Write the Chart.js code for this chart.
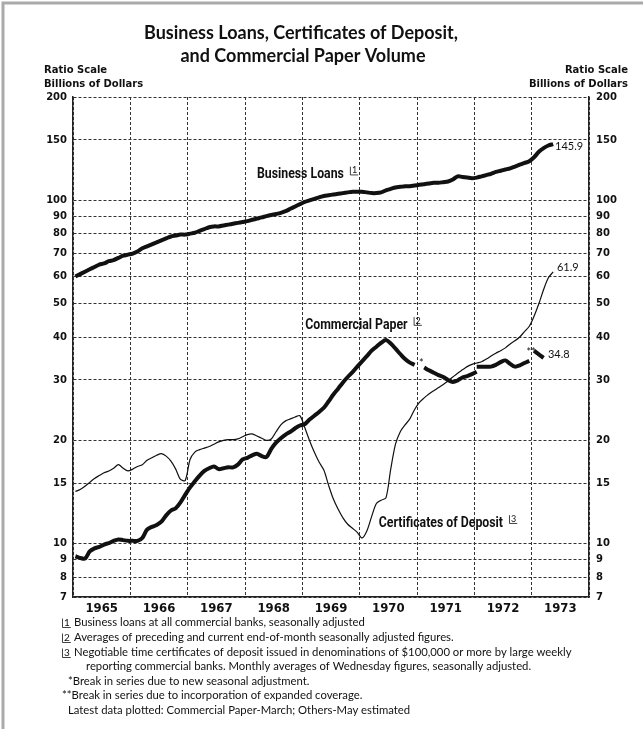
<!DOCTYPE html>
<html>
<head>
<meta charset="utf-8">
<title>Business Loans, Certificates of Deposit, and Commercial Paper Volume</title>
<script src="https://cdn.jsdelivr.net/npm/chart.js@4.4.0/dist/chart.umd.min.js"></script>
<style>
  html, body { margin: 0; padding: 0; background: #fff; }
  #wrap { width: 643px; height: 729px; }
</style>
</head>
<body>
<div id="wrap"><canvas id="chart" width="643" height="729"></canvas></div>
<script>
// month index counts from January 1965 (0) ; points sit mid-month
const yearLabels = ["1965", "1966", "1967", "1968", "1969", "1970", "1971", "1972", "1973"];
const yTicks = [7, 8, 9, 10, 15, 20, 30, 40, 50, 60, 70, 80, 90, 100, 150, 200];
const titleLines = ["Business Loans, Certificates of Deposit,", "and Commercial Paper Volume"];

// business loans, Jan 1965 - May 1973 (billions)
const businessLoans = [
  60, 61, 62, 63, 64, 65, 65.5, 66.5, 67, 68, 69, 69.5,
  70, 71, 72.5, 73.5, 74.5, 75.5, 76.5, 77.5, 78.5, 79, 79.5, 79.5,
  80, 80.5, 81.5, 82.5, 83.5, 84, 84, 84.5, 85, 85.5, 86, 86.5,
  87, 87.8, 88.5, 89.2, 90, 90.7, 91.3, 92, 93, 94.5, 96, 97.5,
  99, 100, 101, 102, 103, 103.5, 104, 104.5, 105, 105.5, 106, 106,
  106, 105.5, 105, 105, 105.5, 107, 108, 109, 109.5, 110, 110, 110.5,
  111, 111.5, 112, 112.5, 112.5, 113, 113.5, 115, 117.5, 117, 116.5, 116,
  116.5, 117.5, 118.5, 119.5, 121, 122, 123, 124, 125.5, 127, 128.5, 130,
  133.5, 138.5, 142, 144.5, 145.9
];

// commercial paper, split at the series breaks
const paperStarts = [0, 73, 84, 96];
const paperA = [ // Jan 1965 - Dec 1970
  9.2, 9.1, 9.05, 9.5, 9.7, 9.8, 9.95, 10.05, 10.2, 10.3, 10.25, 10.2,
  10.2, 10.2, 10.4, 11.0, 11.2, 11.35, 11.6, 12.1, 12.5, 12.7, 13.2, 13.9,
  14.6, 15.2, 15.8, 16.3, 16.6, 16.8, 16.5, 16.6, 16.7, 16.7, 17.0, 17.6,
  17.8, 18.1, 18.3, 18.0, 17.9, 18.9, 19.7, 20.3, 20.8, 21.2, 21.7, 22.1,
  22.3, 23.0, 23.6, 24.2, 24.9, 26.0, 27.2, 28.3, 29.5, 30.6, 31.6, 32.8,
  34.0, 35.2, 36.5, 37.5, 38.5, 39.2, 38.3, 37.0, 35.7, 34.5, 33.7, 33.2
];
const paperB = [32.6, 32.0, 31.5, 31.0, 30.6, 30.0, 29.6, 29.9, 30.5, 30.8, 31.2, 31.7]; // Feb 1971 - Jan 1972
const paperC = [32.8, 32.8, 32.8, 32.8, 33.2, 33.8, 34.2, 33.4, 32.8, 33.1, 33.6, 34.1]; // 1972 new basis
const paperD = [36.5, 35.6, 34.8]; // Jan - Mar 1973

// certificates of deposit, Jan 1965 - May 1973
const deposits = [
  14.2, 14.4, 14.7, 15.1, 15.5, 15.8, 16.1, 16.3, 16.6, 17.0, 16.6, 16.3,
  16.5, 16.8, 17.0, 17.5, 17.8, 18.1, 18.3, 18.0, 17.4, 16.5, 15.4, 15.3,
  17.6, 18.5, 18.8, 19.0, 19.2, 19.5, 19.8, 20.0, 20.1, 20.1, 20.2, 20.5,
  20.8, 20.9, 20.6, 20.3, 20.0, 20.2, 21.2, 22.2, 22.8, 23.1, 23.4, 23.6,
  21.8, 20.0, 18.5, 17.3, 16.4, 14.8, 13.5, 12.6, 11.9, 11.4, 11.1, 10.8,
  10.4, 10.9, 12.0, 13.1, 13.4, 13.6, 16.5, 19.5, 21.2, 22.2, 23.1, 24.6,
  25.8, 26.6, 27.3, 27.9, 28.5, 29.1, 29.8, 30.6, 31.4, 32.1, 32.8, 33.3,
  33.6, 33.9, 34.5, 35.2, 35.9, 36.5, 37.2, 38.2, 39.0, 40.0, 41.5, 43.0,
  46.0, 50.0, 55.0, 59.5, 61.9
];

// text placed on the plot, anchored in data units
const seriesNotes = [
  { text: "Business Loans", mark: "1", x: 38.5, y: 119 },
  { text: "Commercial Paper", mark: "2", x: 48.6, y: 43.4 },
  { text: "Certificates of Deposit", mark: "3", x: 64.0, y: 11.5 }
];
const endNotes = [
  { text: "145.9", x: 100.9, y: 144 },
  { text: "61.9", x: 101.3, y: 63.6 },
  { text: "34.8", x: 99.4, y: 35.5 },
  { text: "*", x: 72.4, y: 33.6 },
  { text: "**", x: 94.9, y: 36.0 }
];

const footnotes = [
  { mark: "1", text: "Business loans at all commercial banks, seasonally adjusted", x: 62, y: 626 },
  { mark: "2", text: "Averages of preceding and current end-of-month seasonally adjusted figures.", x: 62, y: 641 },
  { mark: "3", text: "Negotiable time certificates of deposit issued in denominations of $100,000 or more by large weekly", x: 62, y: 656 },
  { mark: "", text: "reporting commercial banks. Monthly averages of Wednesday figures, seasonally adjusted.", x: 86, y: 670 },
  { mark: "", text: "*Break in series due to new seasonal adjustment.", x: 68, y: 685 },
  { mark: "", text: "**Break in series due to incorporation of expanded coverage.", x: 62, y: 699 },
  { mark: "", text: "Latest data plotted: Commercial Paper-March; Others-May estimated", x: 68, y: 714 }
];

const condensed = "'DejaVu Sans Condensed', 'Liberation Sans Narrow', 'Roboto Condensed', Roboto";

function toPoints(values, start) {
  return values.map((v, i) => ({ x: start + i + 0.5, y: v }));
}

// small numeral with a corner bracket, like the note markers
function drawMark(ctx, mark, x, y, size) {
  ctx.save();
  ctx.font = size + "px Lato";
  ctx.textAlign = "left";
  ctx.textBaseline = "alphabetic";
  ctx.fillText(mark, x + 2, y);
  const w = ctx.measureText(mark).width;
  ctx.lineWidth = 0.8;
  ctx.beginPath();
  ctx.moveTo(x + 0.5, y - size * 0.75);
  ctx.lineTo(x + 0.5, y + 1.5);
  ctx.lineTo(x + w + 3, y + 1.5);
  ctx.stroke();
  ctx.restore();
}

const annotate = {
  id: "annotate",
  afterDraw(chart) {
    const ctx = chart.ctx;
    const xs = chart.scales.x;
    const ys = chart.scales.y;
    ctx.save();
    ctx.fillStyle = "#111";
    ctx.strokeStyle = "#111";

    // scanned page edge
    ctx.save();
    ctx.strokeStyle = "#aaa";
    ctx.lineWidth = 3;
    ctx.beginPath();
    ctx.moveTo(3, 729);
    ctx.lineTo(3, 3);
    ctx.lineTo(643, 3);
    ctx.stroke();
    ctx.restore();

    // title
    ctx.font = "bold 18px Lato";
    ctx.textAlign = "center";
    ctx.textBaseline = "alphabetic";
    ctx.fillText(titleLines[0], 301, 39);
    ctx.fillText(titleLines[1], 303, 62);

    // axis captions
    ctx.font = "bold 10px 'DejaVu Sans'";
    ctx.textAlign = "left";
    ctx.fillText("Ratio Scale", 44, 73);
    ctx.fillText("Billions of Dollars", 44, 87);
    ctx.textAlign = "right";
    ctx.fillText("Ratio Scale", 628, 73);
    ctx.fillText("Billions of Dollars", 628, 87);

    // series names, squeezed like the original lettering
    ctx.font = "bold 15px Roboto";
    ctx.textAlign = "left";
    ctx.textBaseline = "middle";
    seriesNotes.forEach(n => {
      const px = xs.getPixelForValue(n.x);
      const py = ys.getPixelForValue(n.y);
      const w = ctx.measureText(n.text).width * 0.82;
      ctx.save();
      ctx.translate(px, py);
      ctx.scale(0.82, 1);
      ctx.fillText(n.text, 0, 0);
      ctx.restore();
      drawMark(ctx, n.mark, px + w + 6, py - 1, 9);
    });

    // latest values and break marks
    ctx.font = "11px Lato";
    endNotes.forEach(n => {
      ctx.fillText(n.text, xs.getPixelForValue(n.x), ys.getPixelForValue(n.y));
    });

    // footnotes
    ctx.font = "11.3px Lato";
    ctx.textBaseline = "alphabetic";
    footnotes.forEach(f => {
      let x = f.x;
      if (f.mark) {
        drawMark(ctx, f.mark, x, f.y, 10);
        x += 12;
      }
      ctx.fillText(f.text, x, f.y);
    });
    ctx.restore();
  }
};

const lineStyle = {
  borderColor: "#111",
  pointRadius: 0,
  tension: 0.3,
  fill: false
};

new Chart(document.getElementById("chart"), {
  type: "line",
  data: {
    datasets: [
      { ...lineStyle, label: "Business Loans", data: toPoints(businessLoans, 0), borderWidth: 4 },
      { ...lineStyle, label: "Commercial Paper", data: toPoints(paperA, paperStarts[0]), borderWidth: 4 },
      { ...lineStyle, label: "Commercial Paper (2)", data: toPoints(paperB, paperStarts[1]), borderWidth: 4 },
      { ...lineStyle, label: "Commercial Paper (3)", data: toPoints(paperC, paperStarts[2]), borderWidth: 4 },
      { ...lineStyle, label: "Commercial Paper (4)", data: toPoints(paperD, paperStarts[3]), borderWidth: 4 },
      { ...lineStyle, label: "Certificates of Deposit", data: toPoints(deposits, 0), borderWidth: 1.2 }
    ]
  },
  options: {
    responsive: false,
    animation: false,
    devicePixelRatio: 1,
    layout: {
      padding: { top: 97, bottom: 112, left: 0, right: 0 }
    },
    plugins: {
      legend: { display: false },
      tooltip: { enabled: false },
      title: { display: false }
    },
    scales: {
      x: {
        type: "linear",
        min: 0,
        max: 108,
        afterBuildTicks: scale => {
          scale.ticks = [];
          for (let m = 0; m <= 108; m += 6) scale.ticks.push({ value: m });
        },
        afterFit: scale => { scale.height = 20; },
        ticks: {
          autoSkip: false,
          maxRotation: 0,
          padding: 4,
          color: "#111",
          font: { family: condensed, size: 13, weight: "bold" },
          callback: value => value % 12 === 6 ? yearLabels[(value - 6) / 12] : ""
        },
        grid: {
          drawTicks: false,
          color: ctx => ctx.tick && ctx.tick.value % 12 === 0 ? "#333" : "rgba(0,0,0,0)",
          lineWidth: 1
        },
        border: { display: true, color: "#222", width: 1.5, dash: [3, 2] }
      },
      y: {
        type: "logarithmic",
        position: "left",
        min: 7,
        max: 200,
        afterBuildTicks: scale => {
          scale.ticks = yTicks.map(v => ({ value: v }));
        },
        afterFit: scale => { scale.width = 73; },
        ticks: {
          padding: 6,
          color: "#111",
          font: { family: "DejaVu Sans", size: 10, weight: "bold" },
          callback: value => String(value)
        },
        grid: {
          drawTicks: false,
          color: "#333",
          lineWidth: 1
        },
        border: { display: true, color: "#222", width: 1.5, dash: [3, 2] }
      },
      y2: {
        type: "logarithmic",
        position: "right",
        min: 7,
        max: 200,
        afterBuildTicks: scale => {
          scale.ticks = yTicks.map(v => ({ value: v }));
        },
        afterFit: scale => { scale.width = 54; },
        ticks: {
          padding: 7,
          color: "#111",
          font: { family: "DejaVu Sans", size: 10, weight: "bold" },
          callback: value => String(value)
        },
        grid: { display: false, drawTicks: false },
        border: { display: true, color: "#222", width: 1.5 }
      }
    }
  },
  plugins: [annotate]
});
</script>
</body>
</html>
